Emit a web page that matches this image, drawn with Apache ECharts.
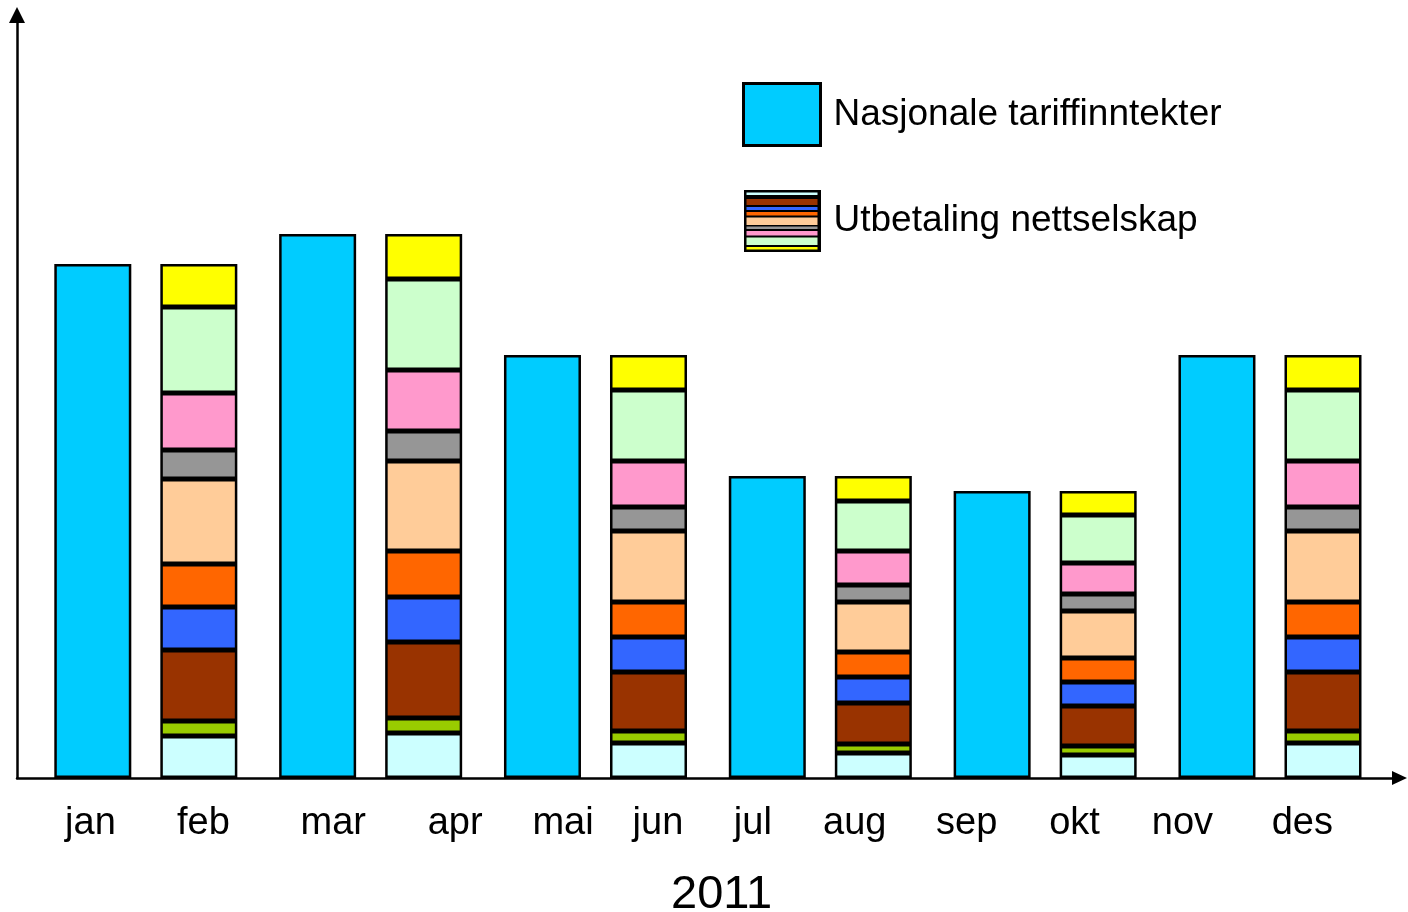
<!DOCTYPE html>
<html>
<head>
<meta charset="utf-8">
<script src="https://cdn.jsdelivr.net/npm/echarts@6.0.0/dist/echarts.min.js"></script>
<style>
html, body { margin: 0; padding: 0; background: #fff; }
#chart { width: 1408px; height: 912px; }
</style>
</head>
<body>
<div id="chart"></div>
<script>
var months = ["jan", "feb", "mar", "apr", "mai", "jun", "jul", "aug", "sep", "okt", "nov", "des"];
var pairs = ["jan/feb", "mar/apr", "mai/jun", "jul/aug", "sep/okt", "nov/des"];

// Nasjonale tariffinntekter (jan, mar, mai, jul, sep, nov)
var tariffIncome = [514, 544, 423, 302, 287, 423];

// Utbetaling nettselskap (feb, apr, jun, aug, okt, des), layers bottom to top
var layer1 = [42, 45, 35, 25, 23, 35];
var layer2 = [15, 15, 12, 9, 9, 12];
var layer3 = [71, 76, 59, 41, 40, 59];
var layer4 = [43, 45, 35, 26, 24, 35];
var layer5 = [43, 46, 35, 25, 24, 35];
var layer6 = [85, 90, 71, 50, 47, 71];
var layer7 = [29, 30, 24, 17, 17, 24];
var layer8 = [57, 61, 46, 34, 31, 46];
var layer9 = [86, 91, 71, 50, 48, 71];
var layer10 = [43, 45, 35, 25, 24, 35];

var layers = [layer1, layer2, layer3, layer4, layer5, layer6, layer7, layer8, layer9, layer10];
var layerColors = ["#CCFFFF", "#99CC00", "#993300", "#3366FF", "#FF6600",
                   "#FFCC99", "#969696", "#FF99CC", "#CCFFCC", "#FFFF00"];

var FONT = '"Liberation Sans", Arial, sans-serif';

// small nudges so the month labels sit where they are in the original
var labelShift = [-19, -14, 8, 22, 22, 9, -4, -10, -6, -6, -6, 6];
var labelRich = {};
labelShift.forEach(function (dx, i) {
  labelRich["m" + i] = {
    fontSize: 38,
    fontFamily: FONT,
    color: "#000",
    padding: dx > 0 ? [0, 0, 0, 2 * dx] : [0, -2 * dx, 0, 0]
  };
});

// striped legend icon for the payout stack
function stripeIcon() {
  var c = document.createElement("canvas");
  c.width = 77;
  c.height = 62;
  var ctx = c.getContext("2d");
  ctx.fillStyle = "#000";
  ctx.fillRect(0, 0, 77, 62);
  var stripes = [
    [0, 2.5, 5], [2, 9, 15], [3, 17, 20], [4, 22, 25.5], [5, 27.5, 35],
    [6, 36.5, 39], [7, 41, 45.5], [8, 47.5, 55], [9, 57, 59.5]
  ];
  stripes.forEach(function (s) {
    ctx.fillStyle = layerColors[s[0]];
    ctx.fillRect(3, s[1], 71, s[2] - s[1]);
  });
  return "image://" + c.toDataURL();
}

var chart = echarts.init(document.getElementById("chart"));

var series = [{
  name: "Nasjonale tariffinntekter",
  type: "bar",
  xAxisIndex: 0,
  yAxisIndex: 0,
  barWidth: 77,
  barGap: "37.7%",
  itemStyle: { color: "#00CCFF", borderColor: "#000", borderWidth: 2.5 },
  emphasis: { disabled: true },
  data: tariffIncome
}];
layers.forEach(function (vals, i) {
  series.push({
    name: "Utbetaling nettselskap",
    type: "bar",
    stack: "ut",
    xAxisIndex: 0,
    yAxisIndex: 0,
    barWidth: 77,
    barGap: "37.7%",
    itemStyle: { color: layerColors[i], borderColor: "#000", borderWidth: 2.5 },
    emphasis: { disabled: true },
    data: vals
  });
});

chart.setOption({
  animation: false,
  backgroundColor: "#fff",
  title: {
    text: "2011",
    left: 671,
    top: 872,
    padding: 0,
    textStyle: { fontSize: 47, fontWeight: "normal", fontFamily: FONT, color: "#000" }
  },
  legend: {
    orient: "vertical",
    left: 742,
    top: 82,
    padding: 0,
    itemGap: 43,
    itemWidth: 77,
    itemHeight: 62,
    selectedMode: false,
    textStyle: { fontSize: 37, fontFamily: FONT, color: "#000", padding: [6, 0, 0, 8] },
    data: [
      { name: "Nasjonale tariffinntekter", icon: "rect",
        itemStyle: { color: "#00CCFF", borderColor: "#000", borderWidth: 3 } },
      { name: "Utbetaling nettselskap", icon: stripeIcon() }
    ]
  },
  grid: [
    { left: 33.4, right: 25.6, top: 10, bottom: 134 },
    { left: 17, right: 8.5, top: 15, bottom: 134 },
    { left: 55.5, right: 57.7, top: 15, bottom: 134 }
  ],
  xAxis: [
    { type: "category", gridIndex: 0, data: pairs, show: false },
    {
      type: "value", gridIndex: 1, min: 0, max: 1,
      axisLine: { show: true, symbol: ["none", "triangle"], symbolSize: [14, 15],
                  lineStyle: { color: "#000", width: 2.5 } },
      axisTick: { show: false }, axisLabel: { show: false }, splitLine: { show: false }
    },
    {
      type: "category", gridIndex: 2, data: months,
      axisLine: { show: false }, axisTick: { show: false },
      axisLabel: {
        margin: 27,
        fontSize: 38,
        fontFamily: FONT,
        color: "#000",
        interval: 0,
        formatter: function (v, i) { return "{m" + i + "|" + v + "}"; },
        rich: labelRich
      }
    }
  ],
  yAxis: [
    { type: "value", gridIndex: 0, min: 0, max: 768, show: false },
    {
      type: "value", gridIndex: 1, min: 0, max: 1,
      axisLine: { show: true, symbol: ["none", "triangle"], symbolSize: [16, 16],
                  lineStyle: { color: "#000", width: 2.5 } },
      axisTick: { show: false }, axisLabel: { show: false }, splitLine: { show: false }
    },
    { type: "value", gridIndex: 2, min: 0, max: 1, show: false }
  ],
  series: series
});
</script>
</body>
</html>
